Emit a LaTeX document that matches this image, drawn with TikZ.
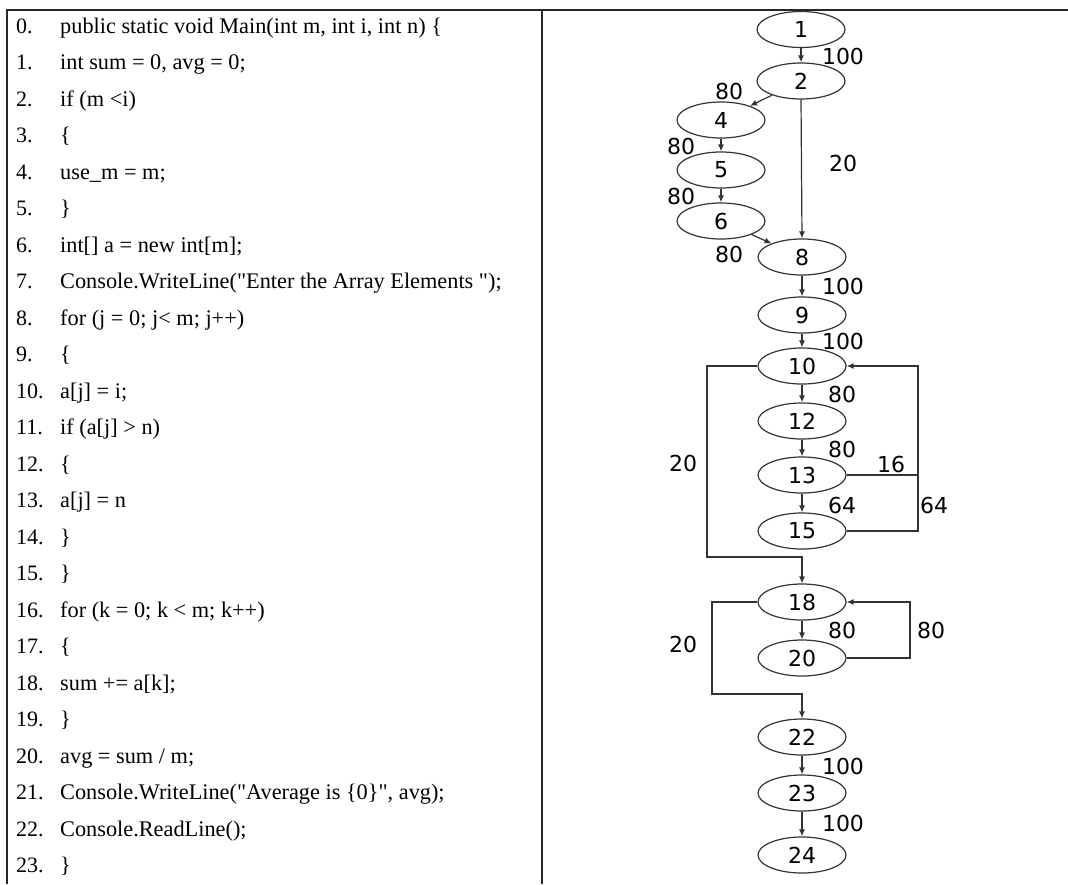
\documentclass[tikz,border=0pt]{standalone}
\usepackage{fontspec}
\setmainfont{Liberation Serif}[Ligatures=TeXOff]
\newfontfamily\graphfont{DejaVu Sans}
\usetikzlibrary{arrows.meta,shapes.geometric}
\tikzset{
  codenum/.style={anchor=base west,inner sep=0pt,font=\fontsize{22}{24}\selectfont},
  codetxt/.style={anchor=base west,inner sep=0pt,font=\fontsize{22.3}{24}\selectfont},
  vtx/.style={ellipse,draw=black!80,line width=1.2pt,minimum width=88pt,minimum height=36pt,inner sep=0pt,font=\graphfont\fontsize{22}{24}\selectfont},
  elab/.style={inner sep=0pt,font=\graphfont\fontsize{22}{24}\selectfont},
  edge/.style={draw=black!80,line width=1.2pt},
  arr/.style={edge,-{Latex[length=7pt,width=6pt]}},
  rule/.style={line width=2pt,draw=black!85}
}
\begin{document}
\begin{tikzpicture}[x=1pt,y=-1pt]
\useasboundingbox (0,0) rectangle (1068,884);
% table rules
\draw[rule] (7,884) -- (7,10) -- (1068,10);
\draw[rule] (542,10) -- (542,884);
% code
\foreach \k/\t in {0/{public static void Main(int m, int i, int n) \{},
  1/{int sum = 0, avg = 0;},
  2/{if (m <i)},
  3/{\{},
  4/{use\_m = m;},
  5/{\}},
  6/{int[] a = new int[m];},
  7/{Console.WriteLine("Enter the Array Elements ");},
  8/{for (j = 0; j< m; j++)},
  9/{\{},
  10/{a[j] = i;},
  11/{if (a[j] > n)},
  12/{\{},
  13/{a[j] = n},
  14/{\}},
  15/{\}},
  16/{for (k = 0; k < m; k++)},
  17/{\{},
  18/{sum += a[k];},
  19/{\}},
  20/{avg = sum / m;},
  21/{Console.WriteLine("Average is \{0\}", avg);},
  22/{Console.ReadLine();},
  23/{\}}}{
  \node[codenum] (n\k) at (16,33+36.52*\k) {\k.};
  \node[codetxt] (l\k) at (60,33+36.52*\k) {\t};
}
% graph nodes
\node[vtx] (v1) at (801,29.5) {1};
\node[vtx] (v2) at (801,81) {2};
\node[vtx] (v4) at (721,120) {4};
\node[vtx] (v5) at (721,170) {5};
\node[vtx] (v6) at (721,221) {6};
\node[vtx] (v8) at (802,257) {8};
\node[vtx] (v9) at (802,315) {9};
\node[vtx] (v10) at (802,366) {10};
\node[vtx] (v12) at (802,421) {12};
\node[vtx] (v13) at (802,475) {13};
\node[vtx] (v15) at (802,531) {15};
\node[vtx] (v18) at (802,602) {18};
\node[vtx] (v20) at (802,658) {20};
\node[vtx] (v22) at (802,737) {22};
\node[vtx] (v23) at (802,793) {23};
\node[vtx] (v24) at (802,855) {24};
% helper corners
\coordinate (c1) at (707,557);
\coordinate (c2) at (918,475);
\coordinate (c3) at (712,694);
\coordinate (c4) at (910,630);
% edges
\draw[arr] (v1.south) -- (v2.north);
\draw[arr] (v2) -- (v4);
\draw[arr] (v2.south) -- (v8.north);
\draw[arr] (v4.south) -- (v5.north);
\draw[arr] (v5.south) -- (v6.north);
\draw[arr] (v6) -- (v8);
\draw[arr] (v8.south) -- (v9.north);
\draw[arr] (v9.south) -- (v10.north);
\draw[arr] (v10.south) -- (v12.north);
\draw[arr] (v12.south) -- (v13.north);
\draw[arr] (v13.south) -- (v15.north);
\draw[arr] (v10.west) -| (c1) -| (v18.north);
\draw[edge] (v13.east) -- (c2);
\draw[arr] (v15.east) -| (c2) |- (v10.east);
\draw[arr] (v18.south) -- (v20.north);
\draw[arr] (v18.west) -| (c3) -| (v22.north);
\draw[arr] (v20.east) -| (c4) |- (v18.east);
\draw[arr] (v22.south) -- (v23.north);
\draw[arr] (v23.south) -- (v24.north);
% edge labels
\node[elab] (e1) at (843,56) {100};
\node[elab] (e2) at (729,91) {80};
\node[elab] (e3) at (843,163) {20};
\node[elab] (e4) at (681,146) {80};
\node[elab] (e5) at (681,196) {80};
\node[elab] (e6) at (729,254) {80};
\node[elab] (e7) at (843,286) {100};
\node[elab] (e8) at (843,341) {100};
\node[elab] (e9) at (842,394) {80};
\node[elab] (e10) at (842,449.5) {80};
\node[elab] (e11) at (891,464) {16};
\node[elab] (e12) at (842,505) {64};
\node[elab] (e13) at (934,505) {64};
\node[elab] (e14) at (683,463) {20};
\node[elab] (e15) at (683,644) {20};
\node[elab] (e16) at (842,630) {80};
\node[elab] (e17) at (931,630) {80};
\node[elab] (e18) at (843,766) {100};
\node[elab] (e19) at (843,823) {100};
\end{tikzpicture}
\end{document}
